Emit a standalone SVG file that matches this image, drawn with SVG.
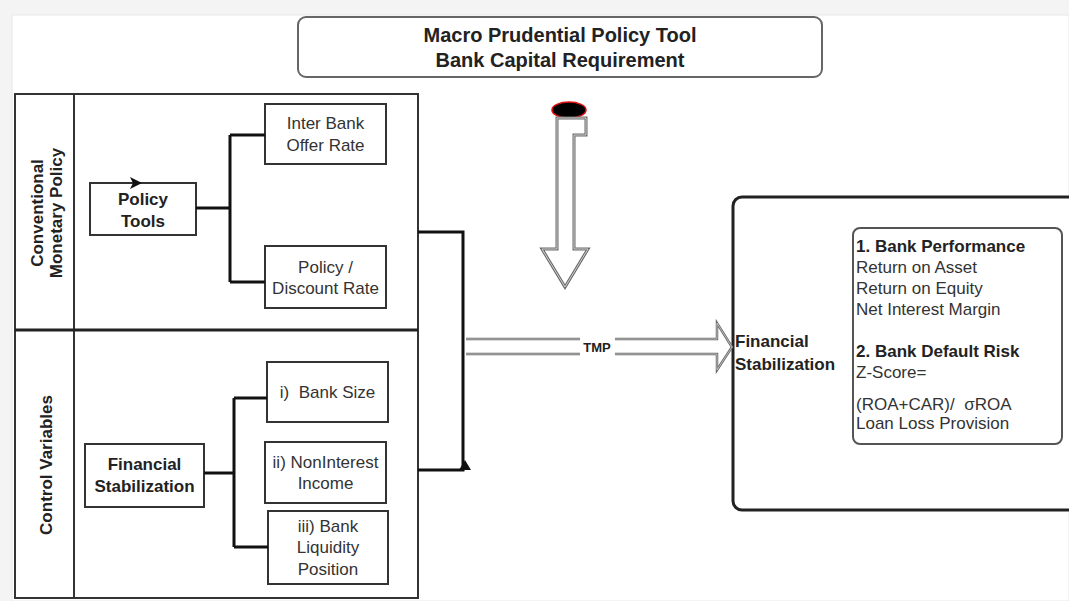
<svg xmlns="http://www.w3.org/2000/svg" width="1069" height="601" viewBox="0 0 1069 601">
<style>
text{font-family:"Liberation Sans",Arial,sans-serif;fill:#222}
.b{font-weight:bold}
.r{font-size:17px;fill:#333}
.bx{fill:#fff;stroke:#333;stroke-width:2}
.con{fill:none;stroke:#111;stroke-width:3}
.m{text-anchor:middle}
</style>
<rect x="0" y="0" width="1069" height="601" fill="#f4f4f4"/>
<rect x="12" y="15" width="1057" height="586" fill="#fff" stroke="#e8e8e8" stroke-width="1"/>

<g id="title">
<rect x="298" y="17" width="524" height="60" rx="8" fill="#fff" stroke="#666" stroke-width="2"/>
<text class="b m" x="560" y="42" font-size="20">Macro Prudential Policy Tool</text>
<text class="b m" x="560" y="67" font-size="20">Bank Capital Requirement</text>
</g>

<g id="left-panel">
<rect x="15" y="94" width="403" height="504" fill="none" stroke="#333" stroke-width="2"/>
<line x1="74" y1="94" x2="74" y2="598" stroke="#333" stroke-width="2"/>
<line x1="15" y1="330" x2="418" y2="330" stroke="#222" stroke-width="3"/>
<text class="b m" font-size="17" transform="translate(43,213) rotate(-90)">Conventional</text>
<text class="b m" font-size="17" transform="translate(62,213) rotate(-90)">Monetary Policy</text>
<text class="b m" font-size="17" transform="translate(52,465) rotate(-90)">Control Variables</text>
</g>

<g id="policy-tools">
<rect class="bx" x="90" y="183" width="106" height="52"/>
<text class="b m" x="143" y="205" font-size="17">Policy</text>
<text class="b m" x="143" y="227" font-size="17">Tools</text>
</g>
<g id="inter-bank">
<rect class="bx" x="265" y="104" width="121" height="60"/>
<text class="r m" x="325.5" y="129">Inter Bank</text>
<text class="r m" x="325.5" y="151">Offer Rate</text>
</g>
<g id="discount-rate">
<rect class="bx" x="265" y="246" width="121" height="62"/>
<text class="r m" x="325.5" y="273">Policy /</text>
<text class="r m" x="325.5" y="294">Discount Rate</text>
</g>

<g id="fin-stab-left">
<rect class="bx" x="85" y="444" width="119" height="63"/>
<text class="b m" x="144.5" y="470" font-size="17">Financial</text>
<text class="b m" x="144.5" y="492" font-size="17">Stabilization</text>
</g>
<g id="bank-size">
<rect class="bx" x="267" y="362" width="121" height="60"/>
<text class="r m" x="327.5" y="398" xml:space="preserve">i)  Bank Size</text>
</g>
<g id="noninterest">
<rect class="bx" x="265" y="442" width="121" height="61"/>
<text class="r m" x="325.5" y="468">ii) NonInterest</text>
<text class="r m" x="325.5" y="489">Income</text>
</g>
<g id="liquidity">
<rect class="bx" x="268" y="511" width="120" height="73"/>
<text class="r m" x="328" y="532">iii) Bank</text>
<text class="r m" x="328" y="553">Liquidity</text>
<text class="r m" x="328" y="575">Position</text>
</g>

<g id="macro-arrow">
<ellipse cx="569" cy="110" rx="17" ry="8" fill="#000" stroke="#e01010" stroke-width="1.5"/>
<path d="M557,118 H586 V135 H574 V249 H588 L565,287 L542,249 H557 Z" fill="#fff" stroke="#6a6a6a" stroke-width="3" stroke-linejoin="miter"/>
<path d="M557,118 H586 V135 H574 V249 H588 L565,287 L542,249 H557 Z" fill="none" stroke="#d0d0d0" stroke-width="1"/>
</g>

<g id="fin-stab-right">
<rect x="733" y="197" width="352" height="313" rx="9" fill="#fff" stroke="#222" stroke-width="3"/>
<text class="b" x="735" y="347" font-size="17">Financial</text>
<text class="b" x="735" y="370" font-size="17">Stabilization</text>
<rect x="853" y="228" width="209" height="216" rx="7" fill="#fff" stroke="#555" stroke-width="2"/>
<text class="b" x="856" y="252" font-size="17">1. Bank Performance</text>
<text class="r" x="856" y="273">Return on Asset</text>
<text class="r" x="856" y="294">Return on Equity</text>
<text class="r" x="856" y="315">Net Interest Margin</text>
<text class="b" x="856" y="357" font-size="17">2. Bank Default Risk</text>
<text class="r" x="856" y="378">Z-Score=</text>
<text class="r" x="856" y="410" xml:space="preserve">(ROA+CAR)/  σROA</text>
<text class="r" x="856" y="429">Loan Loss Provision</text>
</g>

<g id="connectors">
<path class="con" d="M196,208 H230 M230,135 V282 M230,135 H265 M230,282 H265"/>
<polygon points="130,177 142,183 130,189 133,183" fill="#111"/>
<path class="con" d="M204,473 H234 M234,398 V547 M234,398 H267 M234,547 H268"/>
<path class="con" d="M418,232 H463 V470 H418"/>
<polygon points="459,470 465,460 471,470" fill="#111"/>
<g fill="none" stroke="#6a6a6a" stroke-width="2.5">
<path d="M466,339 H580 M615,339 H717 V323 L732,347 L717,370 V354 H615 M580,354 H466"/>
</g>
<g fill="none" stroke="#d0d0d0" stroke-width="0.8">
<path d="M466,339 H580 M615,339 H717 V323 L732,347 L717,370 V354 H615 M580,354 H466"/>
</g>
<text class="b m" x="597" y="352" font-size="13" fill="#333">TMP</text>
</g>
</svg>
